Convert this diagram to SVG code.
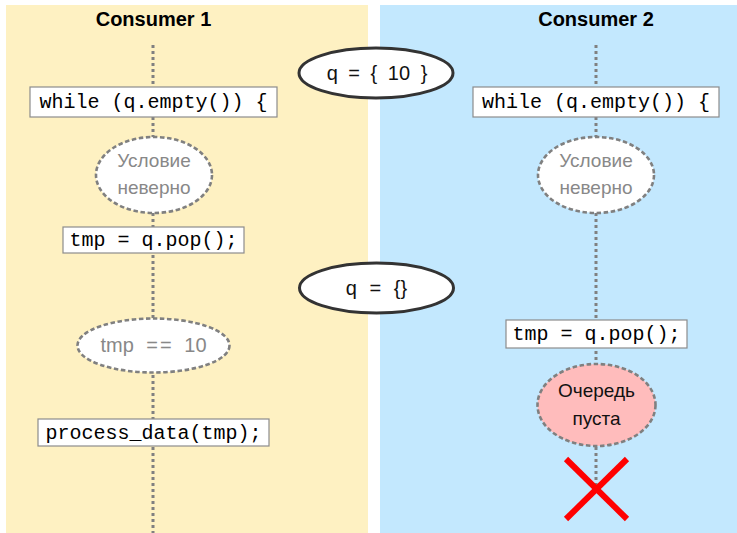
<svg xmlns="http://www.w3.org/2000/svg" width="737" height="533" viewBox="0 0 737 533">
  <style>
    .lane1 { fill: #fef1c2; }
    .lane2 { fill: #c3e8fe; }
    .title { font-family: "Liberation Sans", Arial, sans-serif; font-weight: bold; font-size: 20px; fill: #000; text-anchor: middle; }
    .code { font-family: "Liberation Mono", "Courier New", monospace; font-size: 20px; fill: #000; text-anchor: middle; }
    .box { fill: #fff; stroke: #8c8c8c; stroke-width: 1.2; }
    .state { fill: #fff; stroke: #333; stroke-width: 3; }
    .cond { fill: #fff; stroke: #808080; stroke-width: 2.6; stroke-dasharray: 4.5 2.6; }
    .err { fill: #ffbcbc; stroke: #808080; stroke-width: 2.6; stroke-dasharray: 4.5 2.6; }
    .sans { font-family: "Liberation Sans", Arial, sans-serif; font-size: 19px; text-anchor: middle; }
    .math { font-family: "Liberation Sans", Arial, sans-serif; font-size: 20px; text-anchor: middle; }
    .gray { fill: #888; }
    .dark { fill: #111; }
    .flow { stroke: #808080; stroke-width: 3; stroke-dasharray: 3 3; fill: none; }
    .cross { stroke: #ff0000; stroke-width: 6; fill: none; }
  </style>

  <!-- swimlanes -->
  <rect class="lane1" x="6" y="5" width="362" height="528"/>
  <rect class="lane2" x="380" y="5" width="357" height="528"/>
  <text class="title" x="153.5" y="26">Consumer 1</text>
  <text class="title" x="596" y="26">Consumer 2</text>

  <!-- timelines -->
  <g id="connectors">
    <line class="flow" x1="153" y1="45" x2="153" y2="533"/>
    <line class="flow" x1="596" y1="45" x2="596" y2="488"/>
  </g>

  <!-- consumer 1 -->
  <g id="c1-while">
    <rect class="box" x="30" y="87" width="247" height="30"/>
    <text class="code" x="153.5" y="108">while (q.empty()) {</text>
  </g>
  <g id="c1-cond">
    <ellipse class="cond" cx="154" cy="175" rx="58" ry="38"/>
    <text class="sans gray" x="154" y="167">Условие</text>
    <text class="sans gray" x="154" y="194">неверно</text>
  </g>
  <g id="c1-pop">
    <rect class="box" x="63" y="227" width="181" height="26"/>
    <text class="code" x="153.5" y="246">tmp = q.pop();</text>
  </g>
  <g id="c1-check">
    <ellipse class="cond" cx="153.5" cy="345.5" rx="76" ry="27"/>
    <text class="math gray" x="153.5" y="352" word-spacing="7">tmp <tspan letter-spacing="2">=</tspan>= 10</text>
  </g>
  <g id="c1-process">
    <rect class="box" x="38" y="419" width="231" height="27"/>
    <text class="code" x="153.5" y="439">process_data(tmp);</text>
  </g>

  <!-- queue states -->
  <g id="queue-full">
    <ellipse class="state" cx="376" cy="73" rx="77" ry="25"/>
    <text class="math dark" x="377" y="80" word-spacing="5">q = { 10 }</text>
  </g>
  <g id="queue-empty">
    <ellipse class="state" cx="376.5" cy="288" rx="77" ry="25"/>
    <text class="math dark" x="376.5" y="295" word-spacing="7">q = {}</text>
  </g>

  <!-- consumer 2 -->
  <g id="c2-while">
    <rect class="box" x="473" y="87" width="246" height="30"/>
    <text class="code" x="596" y="108">while (q.empty()) {</text>
  </g>
  <g id="c2-cond">
    <ellipse class="cond" cx="596" cy="175" rx="58" ry="38"/>
    <text class="sans gray" x="596" y="167">Условие</text>
    <text class="sans gray" x="596" y="194">неверно</text>
  </g>
  <g id="c2-pop">
    <rect class="box" x="506" y="320" width="181" height="28"/>
    <text class="code" x="596.5" y="340">tmp = q.pop();</text>
  </g>
  <g id="c2-empty">
    <ellipse class="err" cx="596.5" cy="405" rx="59" ry="41"/>
    <text class="sans dark" x="596.5" y="397">Очередь</text>
    <text class="sans dark" x="596.5" y="425">пуста</text>
  </g>
  <g id="c2-fail">
    <line class="cross" x1="566" y1="459" x2="627" y2="519"/>
    <line class="cross" x1="627" y1="459" x2="566" y2="519"/>
  </g>
</svg>
